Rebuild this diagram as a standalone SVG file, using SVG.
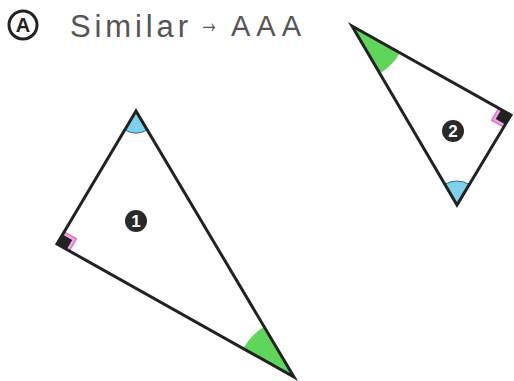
<svg xmlns="http://www.w3.org/2000/svg" width="514" height="381" viewBox="0 0 514 381">
<style>
.tri{fill:none;stroke:#222;stroke-width:3;stroke-linejoin:miter}
.green{fill:#4fd04a;opacity:0.9}
.blue{fill:#7fd0ea;stroke:#2a6f8a;stroke-width:1}
.pink{fill:#f0a8e0;stroke:#e070c8;stroke-width:1.5}
.sq{fill:#222}
.badge{fill:#2a2a2a}
.num{font-family:"Liberation Sans",Arial,sans-serif;font-weight:bold;font-size:17px;fill:#fff;text-anchor:middle}
.hand{font-family:"Liberation Sans",Arial,sans-serif;fill:#555}
</style>
<rect width="514" height="381" fill="#fff"/>
<g id="title">
<circle cx="23" cy="25" r="14" fill="none" stroke="#222" stroke-width="3"/>
<text x="23" y="32" font-family="Liberation Sans,Arial,sans-serif" font-weight="bold" font-size="20" fill="#222" text-anchor="middle">A</text>
<text class="hand" x="70" y="37" font-size="31" textLength="118" lengthAdjust="spacing">Similar</text>
<text class="hand" x="199" y="33" font-size="34" textLength="20" lengthAdjust="spacingAndGlyphs">→</text>
<text class="hand" x="231" y="36" font-size="29" textLength="70" lengthAdjust="spacing">AAA</text>
</g>
<g id="triangle1">
<path class="green" d="M294,377 L264.4,326.6 A58,58 0 0 0 243.4,348.6 Z"/>
<path class="blue" d="M136,111 L124.8,129.9 A22,22 0 0 0 147.2,129.9 Z"/>
<path class="pink" d="M57,244 L64.2,231.9 L76.4,238.8 L69.2,250.9 Z"/>
<path class="sq" d="M57,244 L62.6,234.5 L72.2,239.9 L66.6,249.4 Z"/>
<path class="tri" d="M136,111 L57,244 L294,377 Z"/>
<circle class="badge" cx="136" cy="221" r="11"/>
<text class="num" x="136" y="227">1</text>
</g>
<g id="triangle2">
<path class="green" d="M352,26 L400,52.8 A55,55 0 0 1 379.8,73.5 Z"/>
<path class="blue" d="M457,205 L444.9,184.3 A24,24 0 0 1 469.3,184.4 Z"/>
<path class="pink" d="M511,115 L498.8,108.2 L491.6,120.2 L503.8,127.0 Z"/>
<path class="sq" d="M511,115 L501.4,109.6 L495.7,119.1 L505.3,124.4 Z"/>
<path class="tri" d="M352,26 L511,115 L457,205 Z"/>
<circle class="badge" cx="453" cy="131" r="11"/>
<text class="num" x="453" y="137">2</text>
</g>
<g id="connectors"></g>
</svg>
